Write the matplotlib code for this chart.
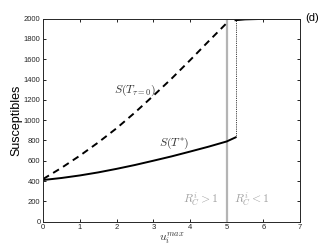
import numpy as np
import matplotlib
matplotlib.use("Agg")
import matplotlib.pyplot as plt

plt.rcParams['font.family'] = ['Liberation Sans', 'DejaVu Sans']
plt.rcParams['mathtext.fontset'] = 'cm'

# values
u_tau0 = [0, 0.5, 1, 1.5, 2, 2.5, 3, 3.5, 4, 4.5, 5.05]
s_tau0 = [420, 530, 650, 780, 920, 1075, 1240, 1410, 1590, 1775, 1975]

u_star = [0, 0.5, 1, 1.5, 2, 2.5, 3, 3.5, 4, 4.5, 5, 5.24]
s_star = [410, 430, 455, 485, 520, 558, 600, 643, 690, 738, 790, 830]

u_jump = [5.24, 5.24]
s_jump = [830, 1985]

u_top = [5.24, 5.5, 6, 6.5, 7]
s_top = [1985, 1993, 1998, 2000, 2000]

u_crit = 5.0
s_crit_top = 1975

fig = plt.figure(figsize=(3.32, 2.49), dpi=100)
ax = fig.add_axes([0.13, 0.11, 0.774, 0.815])

ax.plot([u_crit, u_crit], [0, s_crit_top], color='#b4b4b4', lw=1.6)
ax.plot(u_tau0, s_tau0, color='black', lw=1.4, ls=(0, (3.5, 2.5)))
ax.plot(u_star, s_star, color='black', lw=1.4)
ax.plot(u_jump, s_jump, color='black', lw=0.6, ls=(0, (1, 1.2)))
ax.plot(u_top, s_top, color='black', lw=1.4)

ax.text(2.5, 1290, r'$S(T_{\tau=0})$', fontsize=8.5, ha='center', va='center', color='#333333')
ax.text(3.58, 770, r'$S(T^{*})$', fontsize=8.5, ha='center', va='center', color='#333333')
ax.text(4.3, 210, r'$R_C^i > 1$', fontsize=8.5, ha='center', va='center', color='#a0a0a0')
ax.text(5.68, 210, r'$R_C^i < 1$', fontsize=8.5, ha='center', va='center', color='#a0a0a0')

ax.set_xlim(0, 7)
ax.set_ylim(0, 2000)
ax.set_xticks(np.arange(0, 8, 1))
ax.set_yticks(np.arange(0, 2001, 200))
ax.tick_params(direction='in', top=True, right=True, length=2.5, width=0.6,
               labelsize=5.5, labelcolor='#262626', pad=2)
for sp in ax.spines.values():
    sp.set_linewidth(0.7)
    sp.set_color('#262626')

ax.set_ylabel('Susceptibles', fontsize=9, labelpad=1)
ax.set_xlabel(r'$u_i^{max}$', fontsize=8.5, color='#333333', labelpad=0)

fig.text(0.918, 0.928, '(d)', fontsize=8, ha='left', va='center')

fig.savefig('out.png', dpi=100)
